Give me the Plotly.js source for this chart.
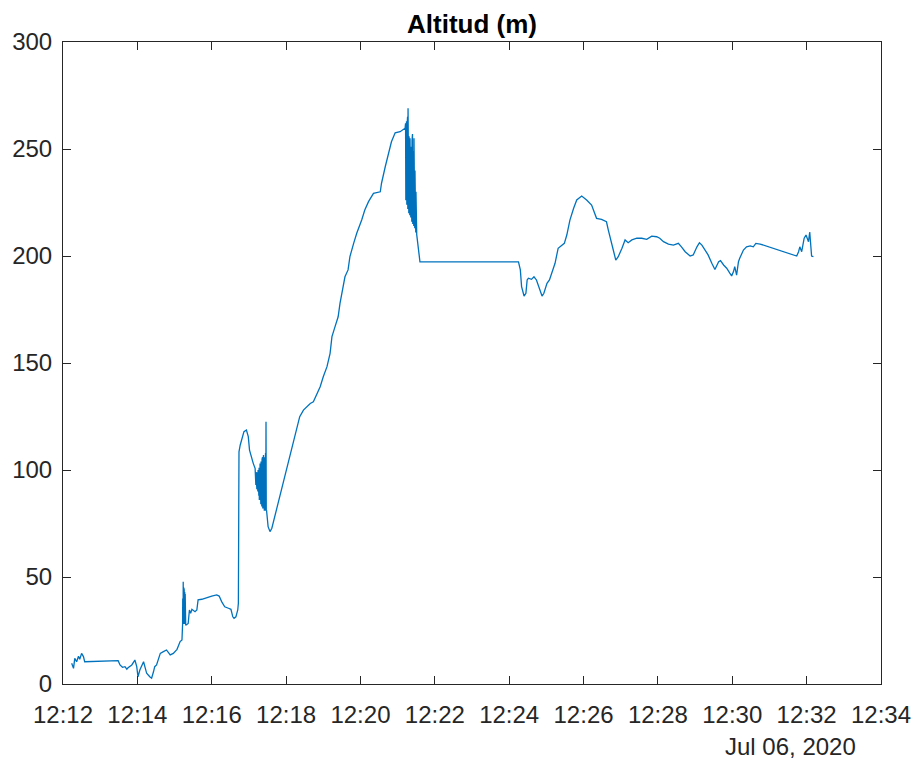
<!DOCTYPE html>
<html>
<head>
<meta charset="utf-8">
<script src="https://cdn.plot.ly/plotly-3.0.1.min.js"></script>
<style>html,body{margin:0;padding:0;background:#fff;}#chart{width:916px;height:762px;}</style>
</head>
<body>
<div id="chart"></div>
<script>
const DAY = '2020-07-06 ';
const times = [
'12:12:14','12:12:17','12:12:19','12:12:22','12:12:25','12:12:27','12:12:30','12:12:33','12:12:35',
'12:13:29','12:13:32','12:13:36','12:13:40','12:13:43','12:13:45','12:13:51','12:13:56','12:13:59',
'12:14:01','12:14:04','12:14:10','12:14:12','12:14:15','12:14:20','12:14:23','12:14:26','12:14:28',
'12:14:31','12:14:34','12:14:37','12:14:42','12:14:47','12:14:53','12:14:58','12:15:04','12:15:09',
'12:15:12',
'12:15:13.0','12:15:13.2','12:15:13.4','12:15:13.6','12:15:13.8','12:15:14.0','12:15:14.2','12:15:14.4',
'12:15:14.6','12:15:14.8','12:15:15.0','12:15:15.2','12:15:15.4','12:15:15.6','12:15:15.8','12:15:16.0',
'12:15:16.2','12:15:16.4','12:15:16.6','12:15:16.8','12:15:17.0','12:15:17.2','12:15:17.4','12:15:17.6',
'12:15:17.8','12:15:18.0',
'12:15:19','12:15:22','12:15:24','12:15:26','12:15:28','12:15:33','12:15:36','12:15:38','12:15:44',
'12:15:52','12:16:00','12:16:08','12:16:12','12:16:16','12:16:21','12:16:27','12:16:31','12:16:34',
'12:16:36','12:16:39','12:16:42','12:16:43','12:16:44','12:16:46','12:16:50','12:16:52','12:16:56',
'12:16:59','12:17:01','12:17:04','12:17:07',
'12:17:10.0','12:17:10.4','12:17:10.8','12:17:11.2','12:17:11.6','12:17:12.0','12:17:12.4','12:17:12.8',
'12:17:13.2','12:17:13.6','12:17:14.0','12:17:14.4','12:17:14.8','12:17:15.2','12:17:15.6','12:17:16.0',
'12:17:16.4','12:17:16.8','12:17:17.2','12:17:17.6','12:17:18.0','12:17:18.4','12:17:18.8','12:17:19.2',
'12:17:19.6','12:17:20.0','12:17:20.4','12:17:20.8','12:17:21.2','12:17:21.6','12:17:22.0','12:17:22.4',
'12:17:22.8','12:17:23.2','12:17:23.6','12:17:24.0','12:17:24.4','12:17:24.8','12:17:25.2','12:17:25.6',
'12:17:26.0','12:17:26.4','12:17:26.8','12:17:27.2','12:17:27.6','12:17:28.0','12:17:28.4',
'12:17:31','12:17:34','12:17:37','12:18:17','12:18:22','12:18:28','12:18:33','12:18:39','12:18:44',
'12:18:49','12:18:55','12:19:00','12:19:06','12:19:11','12:19:14','12:19:19','12:19:24','12:19:27',
'12:19:32','12:19:35','12:19:40','12:19:43','12:19:49','12:19:54','12:20:02','12:20:07','12:20:13',
'12:20:21','12:20:32','12:20:34','12:20:40','12:20:45','12:20:50','12:20:56','12:21:04',
'12:21:12.0','12:21:12.4','12:21:12.8','12:21:13.2','12:21:13.6','12:21:14.0','12:21:14.4','12:21:14.8',
'12:21:15.2','12:21:15.6','12:21:16.0','12:21:16.4','12:21:16.8','12:21:17.2','12:21:17.6','12:21:18.0',
'12:21:18.4','12:21:18.8','12:21:19.2','12:21:19.6','12:21:20.0','12:21:20.4','12:21:20.8','12:21:21.2',
'12:21:21.6','12:21:22.0','12:21:22.4','12:21:22.8','12:21:23.2','12:21:23.6','12:21:24.0','12:21:24.4',
'12:21:24.8','12:21:25.2','12:21:25.6','12:21:26.0','12:21:26.4','12:21:26.8','12:21:27.2','12:21:27.6',
'12:21:28.0','12:21:28.4','12:21:28.8','12:21:29.2','12:21:29.6','12:21:30.0','12:21:30.4','12:21:30.8',
'12:21:36','12:24:15','12:24:18','12:24:20','12:24:24','12:24:27','12:24:29','12:24:31','12:24:36',
'12:24:40','12:24:44','12:24:49','12:24:53','12:24:56','12:25:01','12:25:05','12:25:09','12:25:14',
'12:25:19','12:25:25','12:25:29','12:25:33','12:25:38','12:25:44','12:25:49','12:25:57','12:26:05',
'12:26:13','12:26:19','12:26:21','12:26:29','12:26:37','12:26:40','12:26:43','12:26:45','12:26:48',
'12:26:52','12:26:56','12:27:02','12:27:07','12:27:12','12:27:18','12:27:26','12:27:34','12:27:42',
'12:27:50','12:27:58','12:28:03','12:28:09','12:28:17','12:28:25','12:28:33','12:28:38','12:28:44',
'12:28:52','12:28:57','12:29:03','12:29:07','12:29:11','12:29:16','12:29:21','12:29:27','12:29:32',
'12:29:38','12:29:41','12:29:46','12:29:51','12:29:56','12:29:59','12:30:02','12:30:04','12:30:07',
'12:30:10','12:30:12','12:30:18','12:30:23','12:30:29','12:30:34','12:30:38','12:30:45','12:31:44',
'12:31:47','12:31:49','12:31:52','12:31:56','12:31:59','12:32:03','12:32:05','12:32:08','12:32:11'
];
const altitude = [
9.7,7.3,12,10.4,13,11.5,14.3,12.8,10.4,
10.9,8.9,7.8,8.1,6.9,7.6,8.9,11.2,8.1,
3.4,6.5,10.4,8.1,5,3.4,2.7,5.7,8.1,
8.9,12,14.3,15.1,15.9,13.6,14.3,16.2,19.8,
20.6,
28,40,30,44,29,47.8,31,43,
28,45,30,42,29,44,31,41,
28,43,30,40,29,42,31,38,
28,27.6,
27.6,28.3,34.6,33,34.9,33.8,34.6,39.3,39.6,
40.5,41.1,41.6,41.1,38.5,36.1,35.4,34.9,31.4,
30.7,31.4,34.6,37.7,108.5,111.7,116.4,117.9,118.7,
115.6,109.3,105.5,103.1,
100.8,95,100,93,99,94,98,91,
99,92,97,90,100,89,98,88,
101,86,100,88,103,85,102,84,
104,86,103,83,105,85,106,82,
104,84,107,82,105,81,106,83,
104,81,108,82,122.6,81,81.3,
73.5,71.2,72.8,118.7,124.9,128,129.6,131.1,131.9,
135,138.9,143.6,148.3,154.5,162.3,167,171.6,177.9,
185.7,190.3,193.5,199.7,205.9,210.6,216.8,221.5,225.4,
229.3,230,234,241.7,248,253.4,257.6,258.1,
259.7,230,262,226,258,228,263,224,
260,227,265,222,269,225,258,220,
256,224,252,219,255,226,248,218,
251,222,250,216,254,220,257,215,
246,219,249,214,255,216,244,213,
240,214,236,211,230,212,222,210,
197.3,197.3,193.5,185.7,181.3,182.6,188.8,189.6,189.1,
190.3,188.8,184.1,181.3,182.6,187.2,188.8,191.9,196.6,
203.6,205.1,205.9,209.8,216.8,222.3,226.2,228,226.2,
223.8,219.2,217.6,217.1,216,212.1,209,205.9,202.8,
198.1,199.7,203.6,207.5,206.2,207.5,208.3,208.3,207.8,
209.3,209,208.3,206.7,205.6,205.1,205.9,204.3,202,
200,200.5,204.3,206.2,205.1,202.8,200.5,196.6,193.7,
197.3,197.8,195.8,194.3,192,190.7,192.7,195,191.1,
197.3,198.9,202.8,204.3,204.7,204.3,205.9,205.6,200,
202,204.3,202,208.3,209.8,206.7,211.2,200,199.7
];
const xRange = ['12:12','12:34'];
const yTicks = [0,50,100,150,200,250,300];
const titleText = 'Altitud (m)';
const dateLabel = 'Jul 06, 2020';

const axisColor = '#262626';
const fontFam = 'Liberation Sans, Arial, sans-serif';

const trace = {
  x: times.map(t => DAY + t),
  y: altitude,
  type: 'scatter',
  mode: 'lines',
  line: {color: '#0072BD', width: 1.3},
  hoverinfo: 'skip'
};

const layout = {
  width: 916, height: 762,
  margin: {l: 63, r: 35, t: 42, b: 78},
  paper_bgcolor: '#ffffff', plot_bgcolor: '#ffffff',
  showlegend: false,
  font: {family: fontFam, color: axisColor, size: 24},
  title: {text: '<b>' + titleText + '</b>', font: {family: fontFam, size: 26, color: '#000'},
          x: 0.5, xref: 'paper', xanchor: 'center', y: 1, yref: 'paper', yanchor: 'bottom', pad: {b: 9}},
  xaxis: {
    type: 'date',
    range: [DAY + xRange[0], DAY + xRange[1]],
    dtick: 120000, tick0: DAY + xRange[0],
    tickformat: '%H:%M',
    ticks: 'inside', ticklen: 8, tickwidth: 1, tickcolor: axisColor,
    showline: true, linecolor: axisColor, linewidth: 1, mirror: 'ticks',
    showgrid: false, zeroline: false,
    ticklabelstandoff: 9,
    tickfont: {family: fontFam, size: 24, color: axisColor}
  },
  yaxis: {
    range: [0, 300],
    tickvals: yTicks,
    ticks: 'inside', ticklen: 8, tickwidth: 1, tickcolor: axisColor,
    showline: true, linecolor: axisColor, linewidth: 1, mirror: 'ticks',
    showgrid: false, zeroline: false,
    ticklabelstandoff: 5,
    tickfont: {family: fontFam, size: 24, color: axisColor}
  },
  annotations: [{
    text: dateLabel, xref: 'paper', yref: 'paper', x: 0.972, y: -0.097,
    xanchor: 'right', yanchor: 'middle', showarrow: false,
    font: {family: fontFam, size: 24, color: axisColor}
  }]
};

Plotly.newPlot('chart', [trace], layout, {displayModeBar: false, staticPlot: true});
</script>
</body>
</html>
